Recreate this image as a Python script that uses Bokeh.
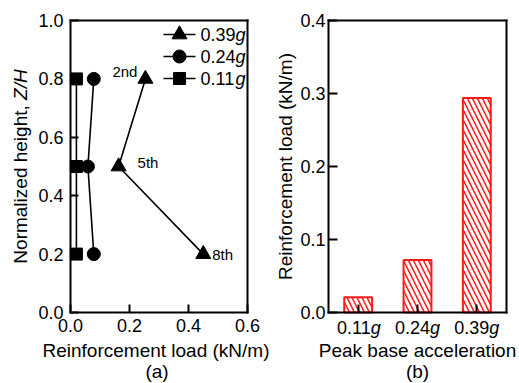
import numpy as np
from bokeh.plotting import figure
from bokeh.layouts import row
from bokeh.models import Label, Range1d, FixedTicker, ColumnDataSource, LinearAxis
from bokeh.embed import file_html
from bokeh.resources import INLINE

# ---------------- data ----------------
heights = [0.8, 0.5, 0.2]
load_039 = [0.254, 0.163, 0.45]
load_024 = [0.079, 0.059, 0.079]
load_011 = [0.020, 0.020, 0.020]
series_names = ["0.39", "0.24", "0.11"]
stage_labels = ["2nd", "5th", "8th"]

pba_labels = ["0.11", "0.24", "0.39"]
pba_loads = [0.021, 0.072, 0.294]

x_ticks_a = [0.0, 0.2, 0.4, 0.6]
y_ticks_a = [0.0, 0.2, 0.4, 0.6, 0.8, 1.0]
y_ticks_b = [0.0, 0.1, 0.2, 0.3, 0.4]

FONT = "Liberation Sans"
FS = 18
FSpx = "18px"
TFS = 19          # axis-title font size
TFSpx = "19px"

# geometry (pixels)
FIG_H = 382
TOP = 20          # axes-box top
FH = 292          # axes-box height
L_W, L_OFF, FW_L = 270, 70, 177     # left figure width, box left offset, box width
R_W, R_OFF, FW_R = 249, 58, 178     # right figure
BOTTOM_EXTRA = FIG_H - TOP - FH


def fmt(v):
    return f"{v:.1f}"


def base_axes(p, xb, yb, xticks, yticks, tick_len):
    """Bottom/left axes fixed at the box edges, so texts around it stay visible."""
    xa, ya = p.below[0], p.left[0]
    for ax in (xa, ya):
        ax.axis_line_color = "black"
        ax.axis_line_width = 2
        ax.axis_line_cap = "square"
        ax.major_tick_line_color = "black"
        ax.major_tick_line_width = 2
        ax.major_tick_in = tick_len
        ax.major_tick_out = 0
        ax.minor_tick_line_color = None
        ax.major_label_text_font = FONT
        ax.major_label_text_font_size = FSpx
        ax.major_label_text_color = "black"
    xa.fixed_location = yb[0]
    ya.fixed_location = xb[0]
    xa.bounds = xb
    ya.bounds = yb
    xa.ticker = FixedTicker(ticks=list(xticks))
    ya.ticker = FixedTicker(ticks=list(yticks))
    p.xgrid.visible = False
    p.ygrid.visible = False
    p.outline_line_color = None
    return xa, ya


def close_box(p, xb, yb):
    for place, loc, bnd in (("above", yb[1], xb), ("right", xb[1], yb)):
        p.add_layout(LinearAxis(fixed_location=loc, bounds=bnd,
                                ticker=FixedTicker(ticks=[]),
                                axis_line_color="black", axis_line_width=2,
                                axis_line_cap="square",
                                major_tick_line_color=None,
                                minor_tick_line_color=None,
                                major_label_text_color=None), place)


def lab(p, x, y, text, italic=False, align="left", baseline="middle",
        angle=0.0, xo=0, yo=0, size=FSpx):
    p.add_layout(Label(x=x, y=y, text=text, text_font=FONT,
                       text_font_size=size,
                       text_font_style="italic" if italic else "normal",
                       text_align=align, text_baseline=baseline,
                       angle=angle, x_offset=xo, y_offset=yo,
                       text_color="black"))

# ---------------- left panel ----------------
xb1 = (x_ticks_a[0], x_ticks_a[-1])
yb1 = (y_ticks_a[0], y_ticks_a[-1])
sx1 = FW_L / (xb1[1] - xb1[0])
sy1 = FH / (yb1[1] - yb1[0])
p1 = figure(width=L_W, height=FIG_H, output_backend="svg",
            toolbar_location=None, title=None,
            x_range=Range1d(-L_OFF / sx1, xb1[1] + (L_W - L_OFF - FW_L) / sx1),
            y_range=Range1d(-BOTTOM_EXTRA / sy1, yb1[1] + TOP / sy1),
            min_border=0)
xa1, ya1 = base_axes(p1, xb1, yb1, x_ticks_a, y_ticks_a, 8)
xa1.major_label_overrides = {v: fmt(v) for v in x_ticks_a}
ya1.major_label_overrides = {v: fmt(v) for v in y_ticks_a}
xa1.major_label_standoff = 6
ya1.major_label_standoff = 7
close_box(p1, xb1, yb1)

markers = ["triangle", "circle", "square"]
msizes = [15, 13, 12]
for vals, mk, ms in zip([load_039, load_024, load_011], markers, msizes):
    p1.line(vals, heights, line_color="black", line_width=1.6)
    p1.scatter(vals, heights, marker=mk, size=ms, fill_color="black",
               line_color="black")

# stage annotations next to the 0.39g points
offs = [(-8, 7, "right"), (19, 4, "left"), (9, 0, "left")]
for (xo, yo, al), xv, hv, t in zip(offs, load_039, heights, stage_labels):
    lab(p1, xv, hv, t, align=al, xo=xo, yo=yo, size="15px")

# legend (drawn manually so that "g" can be italic)
leg_x0, leg_x1, leg_xm, leg_xt = 93 / sx1, 125 / sx1, 109 / sx1, 130 / sx1
for i, (name, mk, ms) in enumerate(zip(series_names, markers, msizes)):
    yy = yb1[1] - (14 + 22 * i) / sy1
    p1.line([leg_x0, leg_x1], [yy, yy], line_color="black", line_width=1.6)
    p1.scatter([leg_xm], [yy], marker=mk, size=ms, fill_color="black",
               line_color="black")
    lab(p1, leg_xt, yy, name)
    lab(p1, leg_xt, yy, "g", italic=True, xo=1.946 * FS)

# y axis title: "Normalized height, " + italic "Z/H"
w_norm = 8.614 * TFS
w_zh = 1.611 * TFS
center_py = 146  # pixels below box top
start_py = center_py + (w_norm + w_zh) / 2
ylab_x = -50 / sx1
lab(p1, ylab_x, yb1[1] - start_py / sy1, "Normalized height, ",
    angle=np.pi / 2, size=TFSpx)
lab(p1, ylab_x, yb1[1] - (start_py - w_norm) / sy1, "Z/H", italic=True,
    angle=np.pi / 2, size=TFSpx)
lab(p1, 0.3 - 3 / sx1, -38 / sy1, "Reinforcement load (kN/m)", align="center",
    size=TFSpx)
lab(p1, 0.3 - 2 / sx1, -59 / sy1, "(a)", align="center", size=TFSpx)

# ---------------- right panel ----------------
xpos = np.arange(len(pba_labels)) + 0.5
src = ColumnDataSource(dict(x=xpos, top=pba_loads))
xb2 = (0, len(pba_labels))
yb2 = (y_ticks_b[0], y_ticks_b[-1])
sx2 = FW_R / (xb2[1] - xb2[0])
sy2 = FH / (yb2[1] - yb2[0])

p2 = figure(width=R_W, height=FIG_H, output_backend="svg",
            toolbar_location=None, title=None,
            x_range=Range1d(-R_OFF / sx2, xb2[1] + (R_W - R_OFF - FW_R) / sx2),
            y_range=Range1d(-BOTTOM_EXTRA / sy2, yb2[1] + TOP / sy2),
            min_border=0)
xa2, ya2 = base_axes(p2, xb2, yb2, xpos, y_ticks_b, 9)
ya2.major_label_overrides = {v: fmt(v) for v in y_ticks_b}
ya2.major_label_standoff = 3
xa2.major_label_text_color = None
xa2.major_tick_in = 8
close_box(p2, xb2, yb2)

p2.vbar(x="x", top="top", width=0.47, bottom=0, source=src,
        fill_color="white", line_color="#ff1a1a", line_width=2,
        hatch_pattern="\\", hatch_color="#ff1a1a", hatch_weight=1.5,
        hatch_scale=10, level="underlay")

for xv, t in zip(xpos, pba_labels):
    split = (1.946 - 0.556) * FS / 2
    lab(p2, xv, -15 / sy2, t, align="right", xo=split)
    lab(p2, xv, -15 / sy2, "g", italic=True, align="left", xo=split)

lab(p2, -43 / sx2, 0.2, "Reinforcement load (kN/m)", align="center",
    angle=np.pi / 2, size=TFSpx)
lab(p2, 1.5, -38 / sy2, "Peak base acceleration", align="center", size=TFSpx)
lab(p2, 1.5, -59 / sy2, "(b)", align="center", size=TFSpx)

layout = row(p1, p2)
open("out.html", "w").write(file_html(layout, INLINE))
